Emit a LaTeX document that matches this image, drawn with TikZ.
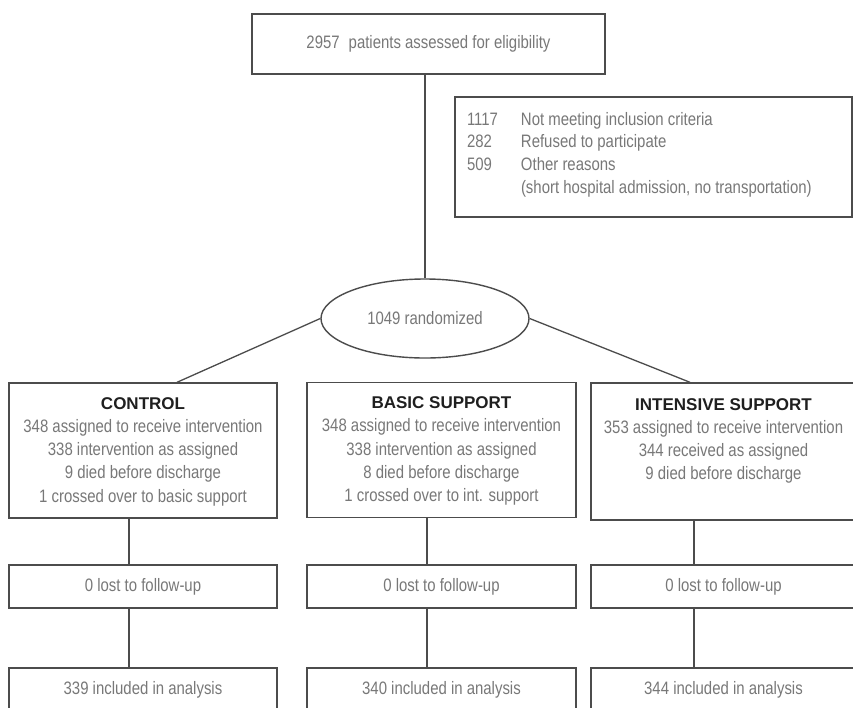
\documentclass[tikz,border=0pt]{standalone}
\usepackage{fontspec}
\setmainfont{Liberation Sans}[FakeStretch=0.83]
\newfontfamily\headfont{Liberation Sans}
\usepackage{tikz}
\usepackage{xcolor}
\usetikzlibrary{shapes.geometric, positioning}
\definecolor{boxline}{gray}{0.30}
\definecolor{boxtext}{gray}{0.47}
\newcommand{\grp}[2]{\parbox[c][135pt][t]{262pt}{\centering\fontsize{18}{23.3}\selectfont
\rule{0pt}{26pt}{\headfont\bfseries\color{black!88}\fontsize{17}{23.3}\selectfont #1}\\ #2}}

\begin{document}
\begin{tikzpicture}[x=1pt, y=-1pt,
  box/.style={draw=boxline, line width=1.4pt, text=boxtext, inner sep=0pt,
    font=\fontsize{18}{23.3}\selectfont},
  link/.style={draw=boxline, line width=1.3pt}]
\useasboundingbox (0,0) rectangle (853,707);
\fill[white] (0,0) rectangle (853,707);
\clip (0,0) rectangle (853,707);

\node[box, minimum width=353, minimum height=60] (elig) at (428.5,44)
{2957\enspace patients assessed for eligibility};
\node[box, minimum width=397, minimum height=120] (excl) at (653.5,157)
{\parbox[c][120pt][t]{373pt}{\raggedright\fontsize{18}{22.7}\selectfont
\rule{0pt}{28pt}\makebox[54pt][l]{1117}Not meeting inclusion criteria\\
\makebox[54pt][l]{282}Refused to participate\\
\makebox[54pt][l]{509}Other reasons\\
\hspace*{54pt}(short hospital admission, no transportation)}};
\node[box, ellipse, minimum width=208, minimum height=79] (rand) at (425,318.5)
{1049 randomized};

% arms
\node[box, minimum width=268, minimum height=135] (ctl) at (143,450.5)
{\grp{CONTROL}{348 assigned to receive intervention\\338 intervention as assigned\\
9 died before discharge\\1 crossed over to basic support}};
\node[box, minimum width=269, minimum height=135] (bas) at (441.5,450)
{\grp{BASIC SUPPORT}{348 assigned to receive intervention\\338 intervention as assigned\\
8 died before discharge\\1 crossed over to int. support}};
\node[box, minimum width=265, minimum height=137] (int) at (723.5,451.5)
{\grp{INTENSIVE SUPPORT}{353 assigned to receive intervention\\344 received as assigned\\
9 died before discharge}};

\node[box, minimum width=268, minimum height=43] (ctlfu) at (143,586.5) {0 lost to follow-up};
\node[box, minimum width=269, minimum height=43] (basfu) at (441.5,586.5) {0 lost to follow-up};
\node[box, minimum width=265, minimum height=43] (intfu) at (723.5,586.5) {0 lost to follow-up};

\node[box, minimum width=268, minimum height=43] (ctlan) at (143,689.5) {339 included in analysis};
\node[box, minimum width=269, minimum height=43] (basan) at (441.5,689.5) {340 included in analysis};
\node[box, minimum width=265, minimum height=43] (intan) at (723.5,689.5) {344 included in analysis};

\draw[link] (elig.south -| rand.north) -- (rand.north);
\draw[link] (rand.west) -- ([xshift=34pt]ctl.north);
\draw[link] (rand.east) -- ([xshift=-33.5pt]int.north);

\draw[link] ([xshift=-14pt]ctl.south) -- ([xshift=-14pt]ctlfu.north);
\draw[link] ([xshift=-14.5pt]bas.south) -- ([xshift=-14.5pt]basfu.north);
\draw[link] ([xshift=-29.5pt]int.south) -- ([xshift=-29.5pt]intfu.north);
\draw[link] ([xshift=-14pt]ctlfu.south) -- ([xshift=-14pt]ctlan.north);
\draw[link] ([xshift=-14.5pt]basfu.south) -- ([xshift=-14.5pt]basan.north);
\draw[link] ([xshift=-29.5pt]intfu.south) -- ([xshift=-29.5pt]intan.north);
\end{tikzpicture}
\end{document}
